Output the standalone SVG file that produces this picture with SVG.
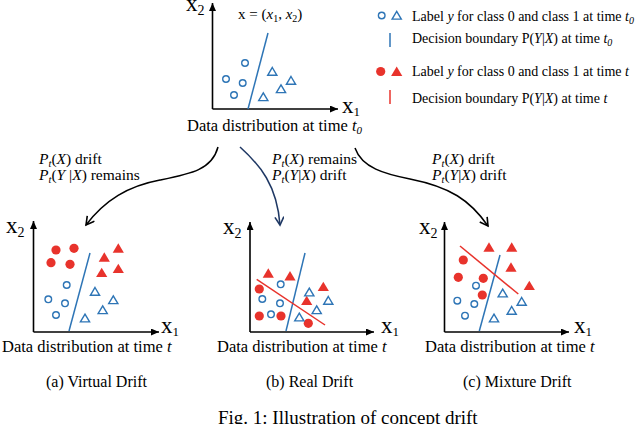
<svg xmlns="http://www.w3.org/2000/svg" xmlns:xlink="http://www.w3.org/1999/xlink" width="640" height="424" viewBox="0 0 640 424">
<style>
text{font-family:"Liberation Serif","Times New Roman",serif;fill:#000}
.ax{stroke:#000;stroke-width:1.6;fill:none}
.lab{font-size:23px}
.sub{font-size:14px}
.sb1{font-size:13px}
.cap{font-size:16.5px}
.fc{font-size:16px}
.leg{font-size:14px}
.dr{font-size:15.5px}
.i{font-style:italic}
.bl{stroke:#2E75B6;stroke-width:1.5;fill:none}
.rl{stroke:#E8332C;stroke-width:1.5;fill:none}
.arr{fill:none;stroke-width:1.5}
</style>
<defs>
<marker id="ah" markerUnits="userSpaceOnUse" markerWidth="9" markerHeight="8" refX="8" refY="3.5" orient="auto"><path d="M0,0 L8,3.5 L0,7 Z" fill="#000"/></marker>
<marker id="ck" markerUnits="userSpaceOnUse" markerWidth="12" markerHeight="12" refX="9" refY="5" orient="auto"><path d="M1,0.5 L9,5 L1,9.5" fill="none" stroke="#000" stroke-width="1.6"/></marker>
<marker id="cn" markerUnits="userSpaceOnUse" markerWidth="12" markerHeight="12" refX="9" refY="5" orient="auto"><path d="M1,0.5 L9,5 L1,9.5" fill="none" stroke="#1F3864" stroke-width="1.6"/></marker>
<circle id="oc" r="3.3" fill="none" stroke="#2E75B6" stroke-width="1.4"/>
<path id="ot" d="M0,-4.2 L4.6,3.6 L-4.6,3.6 Z" fill="none" stroke="#2E75B6" stroke-width="1.4" stroke-linejoin="miter"/>
<circle id="fc" r="4.6" fill="#E8332C"/>
<path id="ft" d="M0,-5 L5.6,4.4 L-5.6,4.4 Z" fill="#E8332C"/>
</defs>

<g id="panel-t0">
<path class="ax" d="M212.5,109 L212.5,3" marker-end="url(#ah)"/>
<path class="ax" d="M212.5,109 L338,109" marker-end="url(#ah)"/>
<text x="186" y="11" class="lab">x<tspan class="sub" dy="4">2</tspan></text>
<text x="342" y="113" class="lab">x<tspan class="sb1" dy="3">1</tspan></text>
<text x="238" y="19" style="font-size:15px">x = (<tspan class="i">x</tspan><tspan font-size="10" dy="3">1</tspan><tspan dy="-3">, </tspan><tspan class="i">x</tspan><tspan font-size="10" dy="3">2</tspan><tspan dy="-3">)</tspan></text>
<line class="bl" x1="268" y1="33" x2="248" y2="109"/>
<use href="#oc" x="245" y="63"/><use href="#oc" x="226" y="79"/><use href="#oc" x="242.7" y="83"/><use href="#oc" x="234" y="95"/>
<use href="#ot" x="272.3" y="71.7"/><use href="#ot" x="291" y="80.7"/><use href="#ot" x="281" y="89"/><use href="#ot" x="263.3" y="97"/>
<text x="187" y="131" class="cap">Data distribution at time <tspan class="i">t</tspan><tspan class="i" font-size="11" dy="3">0</tspan></text>
</g>

<g id="legend">
<use href="#oc" x="381.7" y="15.5"/><use href="#ot" x="396.7" y="15.5"/>
<text x="412" y="20.5" class="leg">Label <tspan class="i">y</tspan> for class 0 and class 1 at time <tspan class="i">t</tspan><tspan class="i" font-size="10" dy="3">0</tspan></text>
<line class="bl" x1="390" y1="33" x2="390" y2="47"/>
<text x="412" y="43" class="leg">Decision boundary P(<tspan class="i">Y</tspan>|<tspan class="i">X</tspan>) at time <tspan class="i">t</tspan><tspan class="i" font-size="10" dy="3">0</tspan></text>
<use href="#fc" x="380.7" y="71.5"/><use href="#ft" x="396.7" y="71.5"/>
<text x="412" y="76" class="leg">Label <tspan class="i">y</tspan> for class 0 and class 1 at time <tspan class="i">t</tspan></text>
<line class="rl" x1="390" y1="90" x2="390" y2="104"/>
<text x="412" y="103" class="leg">Decision boundary P(<tspan class="i">Y</tspan>|<tspan class="i">X</tspan>) at time <tspan class="i">t</tspan></text>
</g>

<g id="connectors">
<path class="arr" stroke="#000" d="M218,147 C212,170 190,174 160,180 C128,186 105,200 86,225" marker-end="url(#ck)"/>
<path class="arr" stroke="#1F3864" d="M240,147 C260,165 277,185 280,225" marker-end="url(#cn)"/>
<path class="arr" stroke="#000" d="M355,148 C362,168 385,174 410,179 C450,187 470,200 488,226" marker-end="url(#ck)"/>
</g>

<g id="label-virtual">
<text x="39" y="164" class="dr"><tspan class="i">P</tspan><tspan class="i" font-size="10.5" dy="3">t</tspan><tspan dy="-3">(</tspan><tspan class="i">X</tspan>) drift</text>
<text x="39" y="180" class="dr"><tspan class="i">P</tspan><tspan class="i" font-size="10.5" dy="3">t</tspan><tspan dy="-3">(</tspan><tspan class="i">Y</tspan> |<tspan class="i">X</tspan>) remains</text>
</g>
<g id="label-real">
<text x="272" y="164" class="dr"><tspan class="i">P</tspan><tspan class="i" font-size="10.5" dy="3">t</tspan><tspan dy="-3">(</tspan><tspan class="i">X</tspan>) remains</text>
<text x="272" y="180" class="dr"><tspan class="i">P</tspan><tspan class="i" font-size="10.5" dy="3">t</tspan><tspan dy="-3">(</tspan><tspan class="i">Y</tspan>|<tspan class="i">X</tspan>) drift</text>
</g>
<g id="label-mixture">
<text x="432" y="164" class="dr"><tspan class="i">P</tspan><tspan class="i" font-size="10.5" dy="3">t</tspan><tspan dy="-3">(</tspan><tspan class="i">X</tspan>) drift</text>
<text x="432" y="180" class="dr"><tspan class="i">P</tspan><tspan class="i" font-size="10.5" dy="3">t</tspan><tspan dy="-3">(</tspan><tspan class="i">Y</tspan>|<tspan class="i">X</tspan>) drift</text>
</g>

<g id="panel-virtual">
<path class="ax" d="M33.5,332 L33.5,221" marker-end="url(#ah)"/>
<path class="ax" d="M33.5,332 L159,332" marker-end="url(#ah)"/>
<text x="6" y="233" class="lab">x<tspan class="sub" dy="4">2</tspan></text>
<text x="161" y="333" class="lab">x<tspan class="sb1" dy="3">1</tspan></text>
<line class="bl" x1="90" y1="253" x2="69" y2="331"/>
<use href="#fc" x="56" y="250"/><use href="#fc" x="74" y="248.3"/><use href="#fc" x="51" y="262.7"/><use href="#fc" x="70" y="264.3"/>
<use href="#ft" x="118.3" y="248.3"/><use href="#ft" x="104.3" y="257.3"/><use href="#ft" x="101.7" y="272.7"/><use href="#ft" x="118.3" y="268.7"/>
<use href="#oc" x="66.7" y="285"/><use href="#oc" x="48.3" y="299.3"/><use href="#oc" x="65" y="303.3"/><use href="#oc" x="56" y="315"/>
<use href="#ot" x="95" y="291.7"/><use href="#ot" x="113.3" y="300"/><use href="#ot" x="102.7" y="310"/><use href="#ot" x="85" y="318.3"/>
<text x="2" y="352" class="cap">Data distribution at time <tspan class="i">t</tspan></text>
<text x="46" y="387" class="fc">(a) Virtual Drift</text>
</g>

<g id="panel-real">
<path class="ax" d="M250,332 L250,222" marker-end="url(#ah)"/>
<path class="ax" d="M250,332 L374,332" marker-end="url(#ah)"/>
<text x="223" y="234" class="lab">x<tspan class="sub" dy="4">2</tspan></text>
<text x="381" y="333" class="lab">x<tspan class="sb1" dy="3">1</tspan></text>
<line class="bl" x1="305" y1="253" x2="286" y2="331"/>
<line class="rl" x1="256.7" y1="279.3" x2="325" y2="325"/>
<use href="#ft" x="268.3" y="273.3"/><use href="#ft" x="290" y="276"/><use href="#ft" x="323.3" y="286.7"/><use href="#ft" x="306.7" y="300.7"/>
<use href="#fc" x="259.3" y="289"/><use href="#fc" x="259.3" y="316"/><use href="#fc" x="281" y="316"/><use href="#fc" x="308.3" y="323.3"/>
<use href="#oc" x="280.7" y="284.3"/><use href="#oc" x="262.3" y="299"/><use href="#oc" x="280" y="303.3"/><use href="#oc" x="271" y="314.3"/>
<use href="#ot" x="309.3" y="292.3"/><use href="#ot" x="328.3" y="300.7"/><use href="#ot" x="316.7" y="310"/><use href="#ot" x="299.3" y="317.3"/>
<text x="217" y="352" class="cap">Data distribution at time <tspan class="i">t</tspan></text>
<text x="266" y="387" class="fc">(b) Real Drift</text>
</g>

<g id="panel-mixture">
<path class="ax" d="M444.5,332 L444.5,222" marker-end="url(#ah)"/>
<path class="ax" d="M444.5,332 L569,332" marker-end="url(#ah)"/>
<text x="419" y="234" class="lab">x<tspan class="sub" dy="4">2</tspan></text>
<text x="574" y="333" class="lab">x<tspan class="sb1" dy="3">1</tspan></text>
<line class="bl" x1="500" y1="255" x2="479.3" y2="331"/>
<line class="rl" x1="460" y1="246" x2="518.3" y2="294"/>
<use href="#ft" x="489" y="247.3"/><use href="#ft" x="511.7" y="247.3"/><use href="#ft" x="511" y="267.3"/><use href="#ft" x="529.3" y="285.7"/>
<use href="#fc" x="463.3" y="260"/><use href="#fc" x="458.3" y="277.3"/><use href="#fc" x="483.3" y="278.3"/><use href="#fc" x="482.3" y="295"/>
<use href="#oc" x="476" y="285.7"/><use href="#oc" x="457.3" y="300.7"/><use href="#oc" x="474.3" y="304"/><use href="#oc" x="465" y="315.7"/>
<use href="#ot" x="502.7" y="293.3"/><use href="#ot" x="521.7" y="301.7"/><use href="#ot" x="511.7" y="310.7"/><use href="#ot" x="494" y="318.3"/>
<text x="425" y="352" class="cap">Data distribution at time <tspan class="i">t</tspan></text>
<text x="463" y="387" class="fc">(c) Mixture Drift</text>
</g>

<text x="218" y="424" style="font-size:19px">Fig. 1: Illustration of concept drift</text>
</svg>
